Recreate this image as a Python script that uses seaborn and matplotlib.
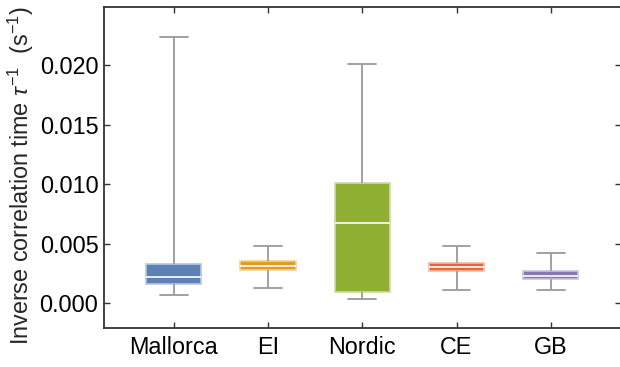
import numpy as np
import pandas as pd
import matplotlib
matplotlib.use("Agg")
import matplotlib.pyplot as plt
import matplotlib.colors as mcolors
import seaborn as sns

# Data (min, Q1, median, Q3, max)
regions = ["Mallorca", "EI", "Nordic", "CE", "GB"]
lower_whisker = [0.0007, 0.0013, 0.0003, 0.0011, 0.0011]
q1 = [0.0016, 0.0028, 0.0009, 0.0027, 0.0020]
median = [0.0022, 0.0031, 0.0067, 0.0030, 0.0023]
q3 = [0.0033, 0.0035, 0.0101, 0.0034, 0.0027]
upper_whisker = [0.0224, 0.0048, 0.0201, 0.0048, 0.0042]
colors = ["#5E81B5", "#E19C24", "#8FB032", "#EB6235", "#8778B3"]
yticks = [0.000, 0.005, 0.010, 0.015, 0.020]

rows = []
for r, a, b, c, d, e in zip(regions, lower_whisker, q1, median, q3, upper_whisker):
    for v in (a, b, c, d, e):
        rows.append({"region": r, "value": v})
df = pd.DataFrame(rows)

sns.set_style("ticks")
plt.rcParams["font.family"] = ["Liberation Sans", "DejaVu Sans"]
plt.rcParams["mathtext.fontset"] = "custom"
plt.rcParams["mathtext.rm"] = "Liberation Sans"
plt.rcParams["mathtext.it"] = "Liberation Sans:italic"

fig = plt.figure(figsize=(6.2, 3.67), dpi=100)
W, H = 620, 367
ax = fig.add_axes([104 / W, (H - 328) / H, (620.5 - 104) / W, (328 - 7) / H])

sns.boxplot(
    data=df, x="region", y="value", hue="region", order=regions,
    palette=colors, saturation=1, width=0.585, whis=(0, 100),
    showfliers=False, legend=False, ax=ax,
    whiskerprops=dict(color="#9a9a9a", linewidth=1.3),
    capprops=dict(color="#9a9a9a", linewidth=1.3),
    medianprops=dict(color="white", linewidth=1.2),
    boxprops=dict(linewidth=1.2),
)

for patch, c in zip(ax.patches, colors):
    rgb = np.array(mcolors.to_rgb(c))
    light = rgb + (1 - rgb) * 0.55
    patch.set_edgecolor(light)
    patch.set_facecolor(c)

ax.set_xlim(-0.74, 4.74)
ax.set_ylim(-0.0021, 0.0249)
ax.set_yticks(yticks)
ax.set_yticklabels([f"{t:.3f}" for t in yticks])
ax.set_xlabel("")
ax.set_ylabel(r"Inverse correlation time $\tau^{-1}$  (s$^{-1}$)", fontsize=16.8)
ax.yaxis.set_label_coords(-0.131, 0.475)

for s in ax.spines.values():
    s.set_color("#333333")
    s.set_linewidth(1.3)

ax.tick_params(axis="both", which="both", direction="in", labelsize=16.8,
               color="#333333", width=1.0, length=4,
               top=True, right=True, labelcolor="black")
ax.tick_params(axis="y", pad=4)
ax.tick_params(axis="x", pad=6)

fig.savefig("out.png", dpi=100)
